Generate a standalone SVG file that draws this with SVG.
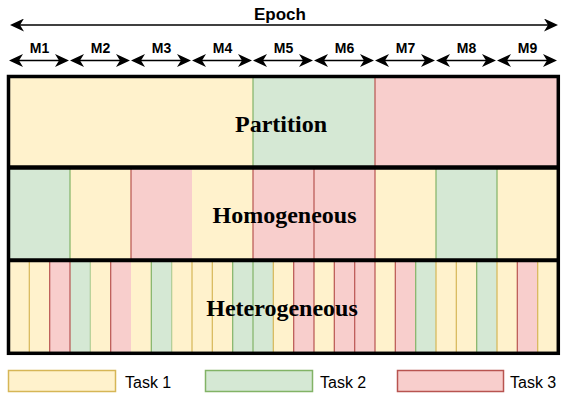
<svg xmlns="http://www.w3.org/2000/svg" width="561" height="394" viewBox="0 0 561 394">
<style>
.y{fill:#fff2cc}
.g{fill:#d5e8d4}
.r{fill:#f8cecc}
.ly{stroke:#d6b656;stroke-width:1.2}
.lg{stroke:#82b366;stroke-width:1.2}
.lgl{stroke:#82b366;stroke-width:1.2;stroke-opacity:0.55}
.lr{stroke:#b85450;stroke-width:1.2}
.big{font-family:"Liberation Serif","Times New Roman",serif;font-weight:bold;font-size:24px;fill:#000;text-anchor:middle}
.lab{font-family:"Liberation Sans",Arial,Helvetica,sans-serif;font-weight:bold;font-size:14px;fill:#000;text-anchor:middle}
.leg{font-family:"Liberation Sans",Arial,Helvetica,sans-serif;font-size:16px;fill:#000}
.arr{stroke:#000;stroke-width:1.3;fill:none;marker-start:url(#ah);marker-end:url(#ah)}
.frame{fill:none;stroke:#000}
</style>
<defs>
<marker id="ah" markerUnits="userSpaceOnUse" viewBox="0 0 14 13" markerWidth="14" markerHeight="13" refX="9" refY="6.5" orient="auto-start-reverse">
<path d="M14,6.5 L0,0 L4,6.5 L0,13 Z" fill="#000"/>
</marker>
</defs>

<g id="partition">
<rect class="y" x="9" y="76" width="244" height="92"/>
<rect class="g" x="253" y="76" width="122" height="92"/>
<rect class="r" x="375" y="76" width="183" height="92"/>
<line class="lg" x1="253" y1="76" x2="253" y2="168"/>
<line class="lr" x1="375" y1="76" x2="375" y2="168"/>
<text class="big" x="281" y="132">Partition</text>
</g>

<g id="homogeneous">
<rect class="g" x="9" y="168" width="61" height="92"/>
<rect class="y" x="70" y="168" width="61" height="92"/>
<rect class="r" x="131" y="168" width="61" height="92"/>
<rect class="y" x="192" y="168" width="61" height="92"/>
<rect class="r" x="253" y="168" width="122" height="92"/>
<rect class="y" x="375" y="168" width="61" height="92"/>
<rect class="g" x="436" y="168" width="61" height="92"/>
<rect class="y" x="497" y="168" width="61" height="92"/>
<line class="lg" x1="70" y1="168" x2="70" y2="260"/>
<line class="lr" x1="131" y1="168" x2="131" y2="260"/>
<line class="lr" x1="253" y1="168" x2="253" y2="260"/>
<line class="lr" x1="314" y1="168" x2="314" y2="260"/>
<line class="lr" x1="375" y1="168" x2="375" y2="260"/>
<line class="lg" x1="436" y1="168" x2="436" y2="260"/>
<line class="lg" x1="497" y1="168" x2="497" y2="260"/>
<text class="big" x="284.5" y="223">Homogeneous</text>
</g>

<g id="heterogeneous">
<rect class="y" x="9" y="260" width="549" height="94"/>
<rect class="r" x="49.7" y="260" width="20.3" height="94"/>
<rect class="g" x="70" y="260" width="20.3" height="94"/>
<rect class="r" x="110.7" y="260" width="20.3" height="94"/>
<rect class="g" x="151.3" y="260" width="20.4" height="94"/>
<rect class="g" x="232.7" y="260" width="40.6" height="94"/>
<rect class="r" x="293.7" y="260" width="20.3" height="94"/>
<rect class="r" x="334.3" y="260" width="40.7" height="94"/>
<rect class="r" x="395.3" y="260" width="20.4" height="94"/>
<rect class="g" x="415.7" y="260" width="20.3" height="94"/>
<rect class="g" x="476.7" y="260" width="20.3" height="94"/>
<rect class="r" x="517.3" y="260" width="20.4" height="94"/>
<line class="ly" x1="29.3" y1="260" x2="29.3" y2="354"/>
<line class="lr" x1="49.7" y1="260" x2="49.7" y2="354"/>
<line class="lr" x1="70" y1="260" x2="70" y2="354"/>
<line class="lgl" x1="90.3" y1="260" x2="90.3" y2="354"/>
<line class="lr" x1="110.7" y1="260" x2="110.7" y2="354"/>
<line class="lg" x1="151.3" y1="260" x2="151.3" y2="354"/>
<line class="lgl" x1="171.7" y1="260" x2="171.7" y2="354"/>
<line class="ly" x1="192" y1="260" x2="192" y2="354"/>
<line class="ly" x1="212.3" y1="260" x2="212.3" y2="354"/>
<line class="lg" x1="232.7" y1="260" x2="232.7" y2="354"/>
<line class="lg" x1="253" y1="260" x2="253" y2="354"/>
<line class="ly" x1="273.3" y1="260" x2="273.3" y2="354"/>
<line class="lr" x1="293.7" y1="260" x2="293.7" y2="354"/>
<line class="lr" x1="314" y1="260" x2="314" y2="354"/>
<line class="lr" x1="334.3" y1="260" x2="334.3" y2="354"/>
<line class="lr" x1="354.7" y1="260" x2="354.7" y2="354"/>
<line class="lr" x1="375" y1="260" x2="375" y2="354"/>
<line class="lr" x1="395.3" y1="260" x2="395.3" y2="354"/>
<line class="lg" x1="415.7" y1="260" x2="415.7" y2="354"/>
<line class="ly" x1="436" y1="260" x2="436" y2="354"/>
<line class="ly" x1="456.3" y1="260" x2="456.3" y2="354"/>
<line class="lg" x1="476.7" y1="260" x2="476.7" y2="354"/>
<line class="ly" x1="497" y1="260" x2="497" y2="354"/>
<line class="lr" x1="517.3" y1="260" x2="517.3" y2="354"/>
<line class="ly" x1="537.7" y1="260" x2="537.7" y2="354"/>
<text class="big" x="282" y="316">Heterogeneous</text>
</g>

<g id="frame">
<rect class="frame" x="8.5" y="76.5" width="549.8" height="276.8" stroke-width="3.5"/>
<line stroke="#000" stroke-width="4.5" x1="8" y1="167.5" x2="559" y2="167.5"/>
<line stroke="#000" stroke-width="4" x1="8" y1="260.3" x2="559" y2="260.3"/>
</g>

<g id="labels">
<text class="lab" x="280" y="19.5" style="font-size:17px">Epoch</text>
<text class="lab" x="39.5" y="52.5">M1</text>
<text class="lab" x="100.5" y="52.5">M2</text>
<text class="lab" x="161.5" y="52.5">M3</text>
<text class="lab" x="222.5" y="52.5">M4</text>
<text class="lab" x="283.5" y="52.5">M5</text>
<text class="lab" x="344.5" y="52.5">M6</text>
<text class="lab" x="405.5" y="52.5">M7</text>
<text class="lab" x="466.5" y="52.5">M8</text>
<text class="lab" x="527.5" y="52.5">M9</text>
</g>

<g id="connectors">
<line class="arr" x1="15" y1="25" x2="553" y2="25"/>
<line class="arr" x1="14" y1="60.5" x2="64" y2="60.5"/>
<line class="arr" x1="75" y1="60.5" x2="125" y2="60.5"/>
<line class="arr" x1="136" y1="60.5" x2="186" y2="60.5"/>
<line class="arr" x1="197" y1="60.5" x2="247" y2="60.5"/>
<line class="arr" x1="258" y1="60.5" x2="308" y2="60.5"/>
<line class="arr" x1="319" y1="60.5" x2="369" y2="60.5"/>
<line class="arr" x1="380" y1="60.5" x2="430" y2="60.5"/>
<line class="arr" x1="441" y1="60.5" x2="491" y2="60.5"/>
<line class="arr" x1="502" y1="60.5" x2="552" y2="60.5"/>
</g>

<g id="legend-task1">
<rect x="8.5" y="370.5" width="107" height="21" fill="#fff2cc" stroke="#d6b656" stroke-width="1.5"/>
<text class="leg" x="125" y="387.5">Task 1</text>
</g>
<g id="legend-task2">
<rect x="205.5" y="370.5" width="107" height="21" fill="#d5e8d4" stroke="#82b366" stroke-width="1.5"/>
<text class="leg" x="320" y="387.5">Task 2</text>
</g>
<g id="legend-task3">
<rect x="397.5" y="370.5" width="106" height="21" fill="#f8cecc" stroke="#b85450" stroke-width="1.5"/>
<text class="leg" x="510" y="387.5">Task 3</text>
</g>
</svg>
